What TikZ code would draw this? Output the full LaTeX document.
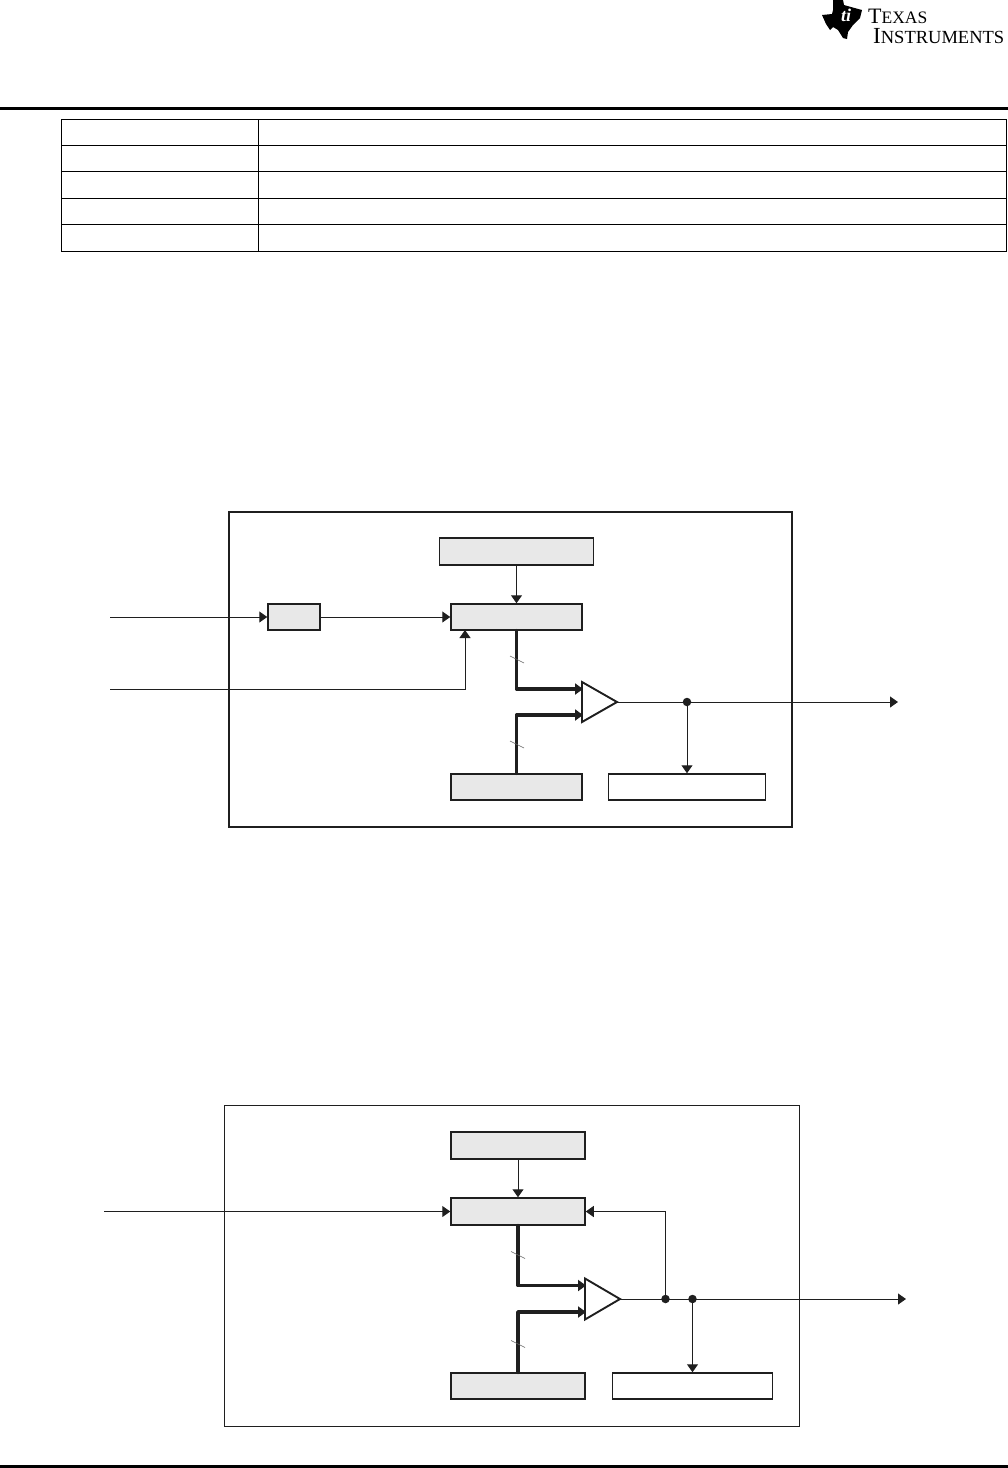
\documentclass[tikz,border=0pt]{standalone}
\usepackage{fontspec}
\setmainfont{Liberation Serif}
\usetikzlibrary{arrows.meta, shapes.geometric}
\definecolor{blockgray}{gray}{0.91}
\definecolor{inkblack}{gray}{0.12}
\tikzset{
  block/.style={draw=inkblack, line width=1.5pt, fill=blockgray, inner sep=0pt, minimum height=26pt},
  plainblock/.style={block, fill=white},
  sig/.style={draw=inkblack, line width=1pt, -{Triangle[length=8pt,width=11pt]}},
  bus/.style={draw=inkblack, line width=3.8pt, line cap=round, line join=round, -{Triangle[length=8pt,width=11pt]}},
  slashmark/.style={draw=inkblack!70, line width=0.6pt},
  amp/.style={draw=inkblack, line width=1.9pt, isosceles triangle, isosceles triangle stretches, inner sep=0pt, outer sep=0pt, anchor=apex},
  junction/.style={circle, fill=inkblack, inner sep=0pt, minimum size=8.5pt},
}

\begin{document}
\begin{tikzpicture}[x=1pt, y=-1pt]
  \useasboundingbox (0,0) rectangle (1008,1468);

  % === HEADER ===
  \fill[black] (833,0) -- (843,0) -- (844,5) -- (851,7) -- (862,10) -- (860,18) -- (853,25) -- (848,32) -- (847,39) -- (843,38) -- (838,30) -- (833,27) -- (830,30) -- (826,24) -- (822,15) -- (832,14) -- (833,10) -- cycle;
  \node[white, font=\itshape\bfseries\fontsize{18}{18}\selectfont, inner sep=0pt] (logoMark) at (846,15) {ti};
  \node[anchor=north west, align=left, inner sep=0pt, font=\fontsize{18.5}{20}\selectfont] (logoText) at (868,9)
    {{\fontsize{22}{20}\selectfont T}{\fontsize{17.5}{20}\selectfont EXAS}\\
     \hspace*{5pt}{\fontsize{23}{20}\selectfont I}NSTRUMENTS};
  \fill[black] (0,107) rectangle (1008,110);
  \fill[black] (0,1464.6) rectangle (1008,1468);

  % === TABLE ===
  \draw[line width=1pt] (61,119) rectangle (1006,251);
  \draw[line width=1pt] (258,119) -- (258,251);
  \foreach \rowy in {145,171,198,224}
    \draw[line width=1pt] (61,\rowy) -- (1006,\rowy);

  % === FIRST DIAGRAM ===
  \draw[line width=1.7pt, draw=inkblack] (229,512) rectangle (792,827);

  \node[block, minimum width=154pt, minimum height=27pt] (refA) at (516.5,551.5) {};
  \node[block, minimum width=131pt] (dacA) at (516.5,617) {};
  \node[block, minimum width=52pt] (divA) at (294,617) {};
  \node[block, minimum width=131pt] (regA) at (516.5,787) {};
  \node[plainblock, minimum width=157pt] (loadA) at (687,787) {};
  \node[amp, minimum width=40pt, minimum height=35pt] (ampA) at (617,702) {};
  \node[junction] (dotA) at (687,702) {};

  \coordinate (clkA) at (110,617);
  \coordinate (enA) at (110,689);
  \coordinate (outA) at (898,702);
  \coordinate (plusA) at (583,689);
  \coordinate (minusA) at (583,715);
  \coordinate (cornerA) at (465,630);
  \coordinate (tickA) at (517,659.5);
  \coordinate (tickB) at (517,744.5);

  \draw[sig] (clkA) -- (divA.west);
  \draw[sig] (divA.east) -- (dacA.west);
  \draw[sig] (enA) -| (cornerA);
  \draw[sig] (refA.south) -- (dacA.north);
  \draw[bus] (dacA.south) |- (plusA);
  \draw[bus] (regA.north) |- (minusA);
  \draw[sig] (ampA.apex) -- (outA);
  \draw[sig] (dotA.center) -- (loadA.north);
  \draw[slashmark] ([shift={(-7,-3.5)}]tickA) -- ([shift={(7,3.5)}]tickA);
  \draw[slashmark] ([shift={(-7,-3.5)}]tickB) -- ([shift={(7,3.5)}]tickB);

  % === SECOND DIAGRAM ===
  \draw[line width=1pt, draw=inkblack] (224,1105) rectangle (799.5,1426);

  \node[block, minimum width=134pt, minimum height=27pt] (refB) at (518,1145.5) {};
  \node[block, minimum width=134pt, minimum height=27pt] (dacB) at (518,1211.5) {};
  \node[block, minimum width=134pt] (regB) at (518,1386) {};
  \node[plainblock, minimum width=160pt] (loadB) at (692.5,1386) {};
  \node[amp, minimum width=41pt, minimum height=35pt] (ampB) at (620,1299) {};
  \node[junction] (dotB) at (665.5,1299) {};
  \node[junction] (dotC) at (692.5,1299) {};

  \coordinate (enB) at (104,1211.5);
  \coordinate (outB) at (906,1299);
  \coordinate (plusB) at (586,1285.5);
  \coordinate (minusB) at (586,1312);
  \coordinate (tickC) at (518,1255);
  \coordinate (tickD) at (518,1344);

  \draw[sig] (enB) -- (dacB.west);
  \draw[sig] (refB.south) -- (dacB.north);
  \draw[sig] (dotB.center) |- (dacB.east);
  \draw[bus] (dacB.south) |- (plusB);
  \draw[bus] (regB.north) |- (minusB);
  \draw[sig] (ampB.apex) -- (outB);
  \draw[sig] (dotC.center) -- (loadB.north);
  \draw[slashmark] ([shift={(-7,-3.5)}]tickC) -- ([shift={(7,3.5)}]tickC);
  \draw[slashmark] ([shift={(-7,-3.5)}]tickD) -- ([shift={(7,3.5)}]tickD);
\end{tikzpicture}
\end{document}
